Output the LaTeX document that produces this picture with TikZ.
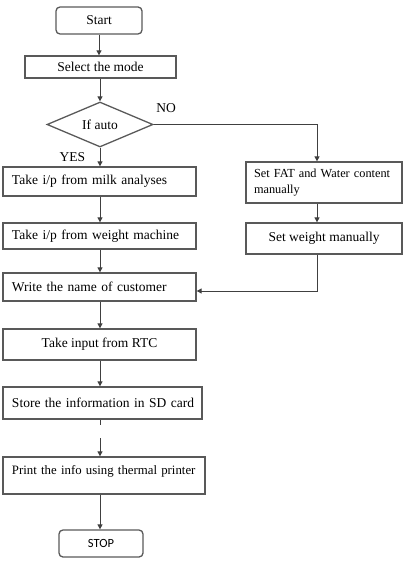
\documentclass[tikz,border=0pt]{standalone}
\usepackage{fontspec}
\setmainfont{Liberation Serif}
\newfontfamily\stopfont{Carlito}
\usetikzlibrary{shapes.geometric,arrows.meta}
\begin{document}
\begin{tikzpicture}[x=1pt, y=-1pt, >={Triangle[length=5pt,width=5pt]},
    font=\fontsize{13.5}{15.5}\selectfont,
    box/.style={draw=black!65, line width=1.3pt, rectangle, inner sep=0pt, align=center},
    lbox/.style={box, inner xsep=9pt, align=left},
    term/.style={box, rounded corners=4pt},
    flow/.style={->, draw=black!75, line width=1pt}]
    \useasboundingbox (0,0) rectangle (417,577);

    % terminals and steps
    \node[term, minimum width=86pt, minimum height=27pt] (start) at (99,20.5) {Start};
    \node[box, minimum width=151pt, minimum height=22pt] (mode) at (100.5,67) {Select the mode};
    \node[diamond, draw=black!65, line width=1.3pt, inner sep=0pt, aspect=2.36,
          minimum width=106pt, minimum height=45pt] (auto) at (100,124.5) {If auto};

    % auto branch
    \node[lbox, text width=175pt, minimum height=29pt] (milk) at (99.5,181.5) {\mbox{Take i/p from milk analyses}};
    \node[lbox, text width=175pt, minimum height=26pt] (weight) at (99.5,236) {\mbox{Take i/p from weight machine}};

    % manual branch
    \node[lbox, inner xsep=8pt, text width=140pt, minimum height=41pt,
          font=\fontsize{12.3}{15.5}\selectfont] (fat) at (324,182.5)
        {\mbox{Set FAT and Water content}\\manually};
    \node[box, minimum width=156pt, minimum height=31pt] (setw) at (324,238.5) {Set weight manually};

    % common part
    \node[lbox, text width=175pt, minimum height=28pt] (name) at (99.5,287) {\mbox{Write the name of customer}};
    \node[box, minimum width=193pt, minimum height=31pt] (rtc) at (99.5,344.5) {Take input from RTC};
    \node[lbox, text width=181pt, minimum height=32pt] (store) at (102.5,403) {\mbox{Store the information in SD card}};
    \node[lbox, text width=184pt, inner ysep=3pt, text height=14pt, text depth=17pt,
          font=\fontsize{12.8}{15}\selectfont] (print) at (104,475.5)
        {\mbox{Print the info using thermal printer}};
    \node[term, minimum width=84pt, minimum height=27pt, font=\stopfont\fontsize{12.5}{14}\selectfont]
        (stop) at (101,543.5) {STOP};

    % labels
    \node (no) at (166,108) {NO};
    \node (yes) at (72.5,157) {YES};

    % connectors
    \coordinate (fatin) at (317,124.5);
    \coordinate (gapa) at (100,425);
    \coordinate (gapb) at (100,438);
    \draw[flow] (start) -- (start |- mode.north);
    \draw[flow] (mode.south -| auto.north) -- (auto.north);
    \draw[flow] (auto.south) -- (auto.south |- milk.north);
    \draw[flow] (auto.east) -- (fatin) -- (fatin |- fat.north);
    \draw[flow] (milk.south -| auto.south) -- (auto.south |- weight.north);
    \draw[flow] (fat.south -| fatin) -- (fatin |- setw.north);
    \draw[flow] (weight.south -| auto.south) -- (auto.south |- name.north);
    \draw[flow] (setw.south -| fatin) |- ([yshift=-4pt]name.east);
    \draw[flow] (name.south -| auto.south) -- (auto.south |- rtc.north);
    \draw[flow] (rtc.south -| auto.south) -- (auto.south |- store.north);
    \draw[draw=black!75, line width=1pt] (store.south -| gapa) -- (gapa);
    \draw[flow] (gapb) -- (gapb |- print.north);
    \draw[flow] (print.south -| gapb) -- (gapb |- stop.north);
\end{tikzpicture}
\end{document}
